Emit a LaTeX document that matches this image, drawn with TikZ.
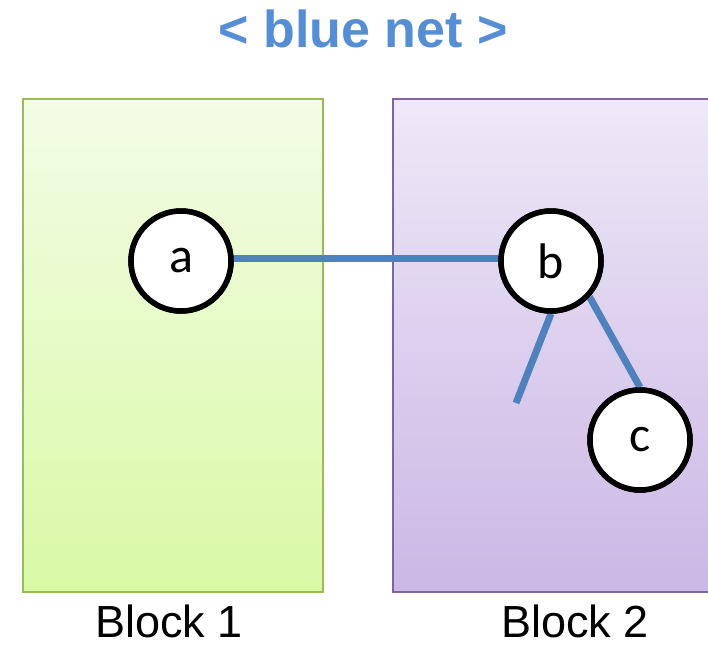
\documentclass[tikz,border=0pt]{standalone}
\usepackage{fontspec}
\setmainfont{Liberation Sans}
\newfontfamily\letterfont{Carlito}
\definecolor{titleblue}{RGB}{85,142,213}
\definecolor{netblue}{RGB}{79,129,189}
\definecolor{greenedge}{RGB}{155,187,89}
\definecolor{greentop}{RGB}{243,252,230}
\definecolor{greenbot}{RGB}{217,249,165}
\definecolor{purpleedge}{RGB}{128,100,162}
\definecolor{purpletop}{RGB}{238,232,247}
\definecolor{purplebot}{RGB}{203,183,229}
\tikzset{
  blockbox/.style={rectangle, line width=2pt, inner sep=0pt},
  netnode/.style={circle, draw=black, line width=5.5pt, fill=white,
    minimum size=100pt, inner sep=0pt, font=\letterfont\fontsize{50}{50}\selectfont},
  wire/.style={draw=netblue, line width=7pt},
  blocklabel/.style={font=\fontsize{45}{45}\selectfont, anchor=base,
    inner sep=0pt, text depth=0pt},
}
\begin{document}
\begin{tikzpicture}[x=1pt, y=-1pt]
  \useasboundingbox (0,0) rectangle (708,648);
  \clip (0,0) rectangle (708,648);
  % title
  \node[font=\bfseries\fontsize{52}{52}\selectfont, text=titleblue] (title) at (363,29) {< blue net >};
  % blocks
  \node[blockbox, draw=greenedge, top color=greentop, bottom color=greenbot,
        minimum width=300pt, minimum height=493pt] (block1) at (173,345.5) {};
  \node[blockbox, draw=purpleedge, top color=purpletop, bottom color=purplebot,
        minimum width=330pt, minimum height=493pt] (block2) at (558,345.5) {};
  % labels
  \node[blocklabel] (lab1) at (169,637) {Block 1};
  \node[blocklabel] (lab2) at (575,637) {Block 2};
  % net nodes and wires
  \coordinate (stub) at (516,403);
  \node[netnode] (a) at (181,261) {a};
  \node[netnode] (b) at (551,261) {b};
  \node[netnode] (c) at (640,440) {c};
  \draw[wire] (a.east |- 0,258) -- (b.west |- 0,258);
  \draw[wire] (b.south) -- (stub);
  \draw[wire] (b.-43) -- (c.north);
  % circles again, on top of the wire ends
  \node[netnode] at (a) {a};
  \node[netnode] at (b) {b};
  \node[netnode] at (c) {c};
\end{tikzpicture}
\end{document}
